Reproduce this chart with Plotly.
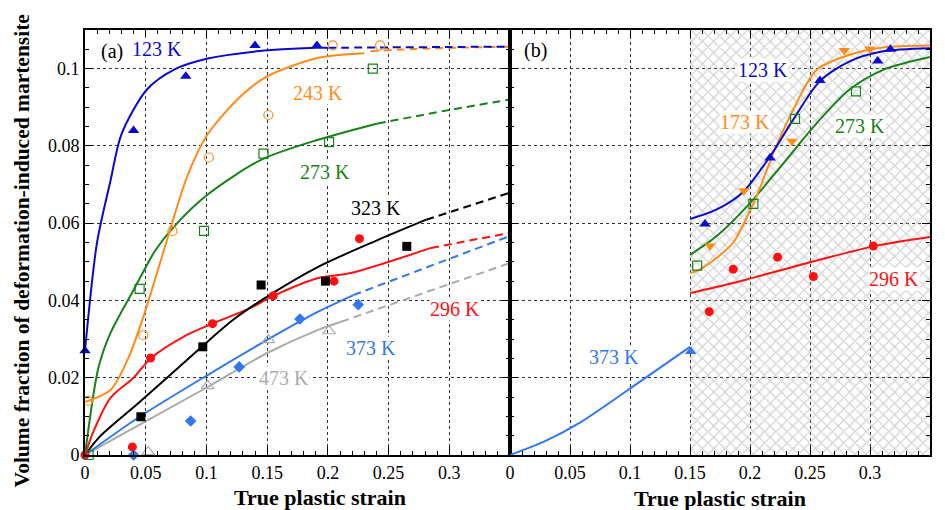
import plotly.graph_objects as go

# ---------------- Panel (a) data ----------------
# 123 K (blue triangles)
a123_pts_x = [0.0, 0.040, 0.083, 0.140, 0.191]
a123_pts_y = [0.027, 0.084, 0.098, 0.106, 0.106]
a123_sol_x = [0.0, 0.0099, 0.021, 0.030, 0.051, 0.073, 0.101, 0.139, 0.19, 0.20]
a123_sol_y = [0.027, 0.055, 0.071, 0.083, 0.0946, 0.0997, 0.1026, 0.1044, 0.1054, 0.1054]
a123_dash_x = [0.20, 0.25, 0.30, 0.35]
a123_dash_y = [0.1054, 0.1055, 0.1056, 0.1057]

# 243 K (orange open circles)
a243_pts_x = [0.0025, 0.048, 0.072, 0.102, 0.151, 0.204, 0.243]
a243_pts_y = [0.014, 0.031, 0.058, 0.077, 0.088, 0.106, 0.106]
a243_sol_x = [0.0, 0.021, 0.035, 0.048, 0.065, 0.084, 0.101, 0.128, 0.150, 0.192, 0.230]
a243_sol_y = [0.0137, 0.0168, 0.0246, 0.0357, 0.053, 0.072, 0.083, 0.0928, 0.098, 0.1028, 0.104]
a243_dash_x = [0.235, 0.28, 0.35]
a243_dash_y = [0.1045, 0.1052, 0.1057]

# 273 K (green open squares)
a273_pts_x = [0.003, 0.045, 0.098, 0.147, 0.201, 0.237]
a273_pts_y = [0.0, 0.043, 0.058, 0.078, 0.081, 0.100]
a273_sol_x = [0.0, 0.011, 0.021, 0.040, 0.058, 0.073, 0.101, 0.145, 0.192, 0.241]
a273_sol_y = [0.0, 0.0225, 0.0316, 0.0427, 0.053, 0.059, 0.0674, 0.0764, 0.0816, 0.0858]
a273_dash_x = [0.241, 0.30, 0.35]
a273_dash_y = [0.0858, 0.0893, 0.092]

# 323 K (black filled squares)
a323_pts_x = [0.046, 0.097, 0.145, 0.198, 0.265]
a323_pts_y = [0.0099, 0.028, 0.044, 0.045, 0.054]
a323_sol_x = [0.0, 0.012, 0.045, 0.095, 0.122, 0.150, 0.192, 0.240, 0.281]
a323_sol_y = [0.0, 0.0047, 0.0137, 0.0277, 0.035, 0.041, 0.0487, 0.0555, 0.0609]
a323_dash_x = [0.281, 0.35]
a323_dash_y = [0.0609, 0.0679]

# 296 K (red filled circles)
a296_pts_x = [0.0, 0.039, 0.054, 0.105, 0.155, 0.205, 0.226]
a296_pts_y = [0.0, 0.0021, 0.0251, 0.034, 0.0412, 0.045, 0.056]
a296_sol_x = [0.0, 0.0068, 0.021, 0.040, 0.054, 0.081, 0.105, 0.136, 0.154, 0.192, 0.219, 0.285]
a296_sol_y = [0.0, 0.006, 0.0148, 0.020, 0.025, 0.0306, 0.034, 0.038, 0.041, 0.0458, 0.0471, 0.0536]
a296_dash_x = [0.285, 0.35]
a296_dash_y = [0.0536, 0.0575]

# 373 K (light blue diamonds)
a373_pts_x = [0.040, 0.087, 0.127, 0.177, 0.225]
a373_pts_y = [0.0, 0.0088, 0.0228, 0.0352, 0.0389]
a373_sol_x = [0.0, 0.045, 0.101, 0.150, 0.192, 0.221]
a373_sol_y = [0.0, 0.0099, 0.0207, 0.0298, 0.0371, 0.0414]
a373_dash_x = [0.221, 0.35]
a373_dash_y = [0.0414, 0.0567]

# 473 K (grey open triangles)
a473_pts_x = [0.052, 0.101, 0.151, 0.201]
a473_pts_y = [0.0008, 0.0179, 0.0298, 0.0321]
a473_sol_x = [0.0, 0.101, 0.150, 0.192, 0.211]
a473_sol_y = [0.0, 0.0176, 0.0264, 0.0324, 0.0345]
a473_dash_x = [0.211, 0.35]
a473_dash_y = [0.0345, 0.0497]

# ---------------- Panel (b) data ----------------
b123_pts_x = [0.1625, 0.2167, 0.2583, 0.3064, 0.317]
b123_pts_y = [0.0598, 0.0769, 0.0969, 0.102, 0.105]
b123_line_x = [0.15, 0.172, 0.194, 0.2167, 0.236, 0.258, 0.283, 0.311, 0.35]
b123_line_y = [0.0611, 0.0635, 0.068, 0.0773, 0.0868, 0.0967, 0.1019, 0.1045, 0.1053]

b173_pts_x = [0.1667, 0.195, 0.235, 0.2786, 0.30]
b173_pts_y = [0.0541, 0.0684, 0.0812, 0.1047, 0.1051]
b173_line_x = [0.15, 0.158, 0.172, 0.186, 0.204, 0.222, 0.236, 0.2556, 0.283, 0.311, 0.35]
b173_line_y = [0.0471, 0.048, 0.051, 0.055, 0.066, 0.080, 0.0894, 0.0997, 0.1036, 0.1055, 0.106]

b273_pts_x = [0.156, 0.2028, 0.2375, 0.2883]
b273_pts_y = [0.049, 0.065, 0.087, 0.0941]
b273_line_x = [0.15, 0.172, 0.20, 0.2278, 0.2556, 0.283, 0.311, 0.35]
b273_line_y = [0.0518, 0.0566, 0.0652, 0.0755, 0.0859, 0.0946, 0.0997, 0.103]

b296_pts_x = [0.166, 0.186, 0.223, 0.2528, 0.3028]
b296_pts_y = [0.0371, 0.0481, 0.0512, 0.0462, 0.0541]
b296_line_x = [0.15, 0.186, 0.2417, 0.3028, 0.35]
b296_line_y = [0.0419, 0.0445, 0.0492, 0.054, 0.0564]

b373_pts_x = [0.1506]
b373_pts_y = [0.0268]
b373_line_x = [0.0, 0.0278, 0.0583, 0.1083, 0.15]
b373_line_y = [0.0, 0.0034, 0.0084, 0.019, 0.028]

hatch_x = [0.15, 0.35, 0.35, 0.15, 0.15]
hatch_y = [0.0, 0.0, 0.11, 0.11, 0.0]

x_ticks_a = [0, 0.05, 0.1, 0.15, 0.2, 0.25, 0.3]
x_ticks_b = [0, 0.05, 0.1, 0.15, 0.2, 0.25, 0.3, 0.35]
y_ticks = [0, 0.02, 0.04, 0.06, 0.08, 0.1]

# ---------------- styles ----------------
C123 = "#0a0acc"
CORG = "#ff8c1a"
CGRN = "#17821a"
CBLK = "#000000"
CRED = "#ff1010"
C373 = "#3377ee"
CGRY = "#aaaaaa"
FONT = "Times New Roman, Liberation Serif, serif"

fig = go.Figure()

# hatch region in panel b
fig.add_trace(go.Scatter(x=hatch_x, y=hatch_y, xaxis="x2", yaxis="y2", mode="none",
                         fill="toself", fillcolor="rgba(0,0,0,0)",
                         fillpattern=dict(shape="x", fgcolor="#a8a8a8", size=8, solidity=0.3),
                         hoverinfo="skip", showlegend=False))


def line(x, y, color, dash="solid", ax=("x", "y"), width=2):
    fig.add_trace(go.Scatter(x=x, y=y, mode="lines", xaxis=ax[0], yaxis=ax[1],
                             line=dict(color=color, width=width, dash=dash, shape="spline", smoothing=0.8),
                             showlegend=False, hoverinfo="skip"))


def pts(x, y, color, symbol, size=10, ax=("x", "y"), open_=False):
    if open_:
        marker = dict(symbol=symbol + "-open", size=size, color=color, line=dict(width=1.2, color=color))
    else:
        marker = dict(symbol=symbol, size=size, color=color, line=dict(width=0))
    fig.add_trace(go.Scatter(x=x, y=y, mode="markers", xaxis=ax[0], yaxis=ax[1],
                             marker=marker, showlegend=False, hoverinfo="skip", cliponaxis=False))


DASH = "8px,5px"
# panel a
for (sx, sy, dx, dy, c) in [
    (a473_sol_x, a473_sol_y, a473_dash_x, a473_dash_y, CGRY),
    (a373_sol_x, a373_sol_y, a373_dash_x, a373_dash_y, C373),
    (a296_sol_x, a296_sol_y, a296_dash_x, a296_dash_y, CRED),
    (a323_sol_x, a323_sol_y, a323_dash_x, a323_dash_y, CBLK),
    (a273_sol_x, a273_sol_y, a273_dash_x, a273_dash_y, CGRN),
    (a243_sol_x, a243_sol_y, a243_dash_x, a243_dash_y, CORG),
    (a123_sol_x, a123_sol_y, a123_dash_x, a123_dash_y, C123),
]:
    line(sx, sy, c)
    line(dx, dy, c, dash=DASH)

pts(a473_pts_x, a473_pts_y, CGRY, "triangle-up", 11, open_=True)
pts(a373_pts_x, a373_pts_y, C373, "diamond", 9)
pts(a296_pts_x, a296_pts_y, CRED, "circle", 9)
pts(a323_pts_x, a323_pts_y, CBLK, "square", 9)
pts(a273_pts_x, a273_pts_y, CGRN, "square", 9, open_=True)
pts(a243_pts_x, a243_pts_y, CORG, "circle", 9, open_=True)
pts(a123_pts_x, a123_pts_y, C123, "triangle-up", 10)

# panel b
B = ("x2", "y2")
line(b373_line_x, b373_line_y, C373, ax=B)
line(b296_line_x, b296_line_y, CRED, ax=B)
line(b273_line_x, b273_line_y, CGRN, ax=B)
line(b173_line_x, b173_line_y, CORG, ax=B)
line(b123_line_x, b123_line_y, C123, ax=B)
pts(b373_pts_x, b373_pts_y, C373, "triangle-up", 10, ax=B)
pts(b296_pts_x, b296_pts_y, CRED, "circle", 9, ax=B)
pts(b273_pts_x, b273_pts_y, CGRN, "square", 9, ax=B, open_=True)
pts(b173_pts_x, b173_pts_y, CORG, "triangle-down", 10, ax=B)
pts(b123_pts_x, b123_pts_y, C123, "triangle-up", 10, ax=B)

# labels
labels = [
    ("x", "y", 0.0225, 0.1045, "(a)", CBLK),
    ("x", "y", 0.0595, 0.105, "123 K", C123),
    ("x", "y", 0.192, 0.0938, "243 K", CORG),
    ("x", "y", 0.198, 0.0733, "273 K", CGRN),
    ("x", "y", 0.240, 0.064, "323 K", CBLK),
    ("x", "y", 0.305, 0.0378, "296 K", CRED),
    ("x", "y", 0.2355, 0.0277, "373 K", C373),
    ("x", "y", 0.164, 0.020, "473 K", CGRY),
    ("x2", "y2", 0.021, 0.1047, "(b)", CBLK),
    ("x2", "y2", 0.211, 0.0997, "123 K", C123),
    ("x2", "y2", 0.196, 0.0861, "173 K", CORG),
    ("x2", "y2", 0.2917, 0.0852, "273 K", CGRN),
    ("x2", "y2", 0.320, 0.0456, "296 K", CRED),
    ("x2", "y2", 0.0864, 0.0253, "373 K", C373),
]
for xr, yr, x, y, t, c in labels:
    fig.add_annotation(x=x, y=y, xref=xr, yref=yr, text=t, showarrow=False,
                       font=dict(family=FONT, size=20, color=c),
                       bgcolor="white" if "K" in t else None, borderpad=0)

# axis titles
fig.add_annotation(x=0.278, y=0, xref="paper", yref="paper", yshift=-42, text="<b>True plastic strain</b>",
                   showarrow=False, font=dict(family=FONT, size=22, color="black"),
                   xanchor="center", yanchor="middle")
fig.add_annotation(x=0.751, y=0, xref="paper", yref="paper", yshift=-43, text="<b>True plastic strain</b>",
                   showarrow=False, font=dict(family=FONT, size=22, color="black"),
                   xanchor="center", yanchor="middle")
fig.add_annotation(x=0, y=0.479, xref="paper", yref="paper", xshift=-63, textangle=-90,
                   text="<b>Volume fraction of deformation-induced martensite</b>",
                   showarrow=False, font=dict(family=FONT, size=21.5, color="black"),
                   xanchor="center", yanchor="middle")

common_x = dict(range=[0, 0.35], ticks="inside", ticklen=8, tickwidth=1, tickcolor="black",
                showline=True, linecolor="black", linewidth=2, mirror="allticks",
                showgrid=True, gridcolor="#333333", griddash="dot", gridwidth=1, zeroline=False,
                tickfont=dict(family=FONT, size=18, color="black"),
                minor=dict(dtick=0.01, ticks="inside", ticklen=4, tickcolor="black", showgrid=False))
common_y = dict(range=[0, 0.11], ticks="inside", ticklen=8, tickwidth=1, tickcolor="black",
                showline=True, linecolor="black", linewidth=2, mirror="allticks",
                showgrid=True, gridcolor="#333333", griddash="dot", gridwidth=1, zeroline=False,
                tickvals=y_ticks, ticktext=["0", "0.02", "0.04", "0.06", "0.08", "0.1"],
                tickfont=dict(family=FONT, size=18, color="black"),
                minor=dict(dtick=0.005, ticks="inside", ticklen=4, tickcolor="black", showgrid=False))

# page body has an 8px margin, so the figure is sized/offset to land on the 945x510 window
fig.update_layout(
    width=937, height=502,
    margin=dict(l=77, r=15, t=22, b=55),
    paper_bgcolor="white", plot_bgcolor="white",
    showlegend=False,
    font=dict(family=FONT, color="black"),
    xaxis=dict(common_x, domain=[0, 0.503], anchor="y", tickvals=x_ticks_a,
               ticktext=["0", "0.05", "0.1", "0.15", "0.2", "0.25", "0.3"]),
    yaxis=dict(common_y, domain=[0, 1], anchor="x"),
    xaxis2=dict(common_x, domain=[0.503, 1], anchor="y2", tickvals=x_ticks_b,
                ticktext=["0", "0.05", "0.1", "0.15", "0.2", "0.25", "0.3", "0.35"]),
    yaxis2=dict(common_y, domain=[0, 1], anchor="x2", showticklabels=False),
)

fig.write_html("out.html")
